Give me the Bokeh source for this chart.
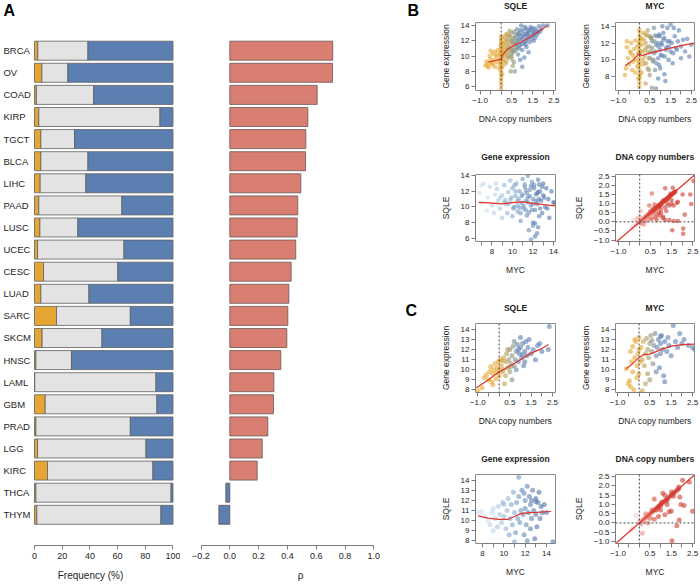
from bokeh.plotting import figure
from bokeh.models import Range1d, FixedTicker, ColumnDataSource, Span, Slope
from bokeh.layouts import row, column
from bokeh.transform import linear_cmap
from bokeh.core.properties import value
from bokeh.embed import file_html
from bokeh.resources import INLINE

# ---------------- data: panel A ----------------
cancers = ["BRCA", "OV", "COAD", "KIRP", "TGCT", "BLCA", "LIHC", "PAAD", "LUSC", "UCEC", "CESC",
           "LUAD", "SARC", "SKCM", "HNSC", "LAML", "GBM", "PRAD", "LGG", "KIRC", "THCA", "THYM"]
loss_pct = [2.4, 5.3, 1.4, 3.1, 4.6, 4.6, 4.1, 3.1, 3.9, 2.2, 6.5, 4.6, 15.9, 5.5, 1.0, 0.2, 7.7, 1.0, 2.2, 9.4, 1.0, 1.7]
neutral_pct = [36.2, 18.8, 41.3, 87.5, 24.3, 34.0, 33.0, 60.0, 27.4, 62.4, 53.7, 34.7, 53.3, 43.2, 25.7, 87.5, 80.7, 68.2, 78.3, 76.1, 97.6, 89.6]
gain_pct = [61.4, 75.9, 57.3, 9.4, 71.1, 61.4, 62.9, 36.9, 68.7, 35.4, 39.8, 60.7, 30.8, 51.3, 73.3, 12.3, 11.6, 30.8, 19.5, 14.5, 1.4, 8.7]
rho = [0.715, 0.713, 0.607, 0.542, 0.528, 0.526, 0.493, 0.472, 0.468, 0.458, 0.426, 0.410, 0.403, 0.396,
       0.354, 0.306, 0.303, 0.264, 0.225, 0.190, -0.028, -0.076]
freq_ticks = [0, 20, 40, 60, 80, 100]
rho_ticks = [-0.2, 0.0, 0.2, 0.4, 0.6, 0.8, 1.0]
rho_tick_labels = ["\u22120.2", "0.0", "0.2", "0.4", "0.6", "0.8", "1.0"]

# ---------------- data: panel B ----------------
b_sqle_cn = [-0.75, -0.70, -0.65, -0.60, -0.60, -0.55, -0.50, -0.50, -0.45, -0.40, -0.40, -0.35, -0.30, -0.30, -0.25,
             -0.20, -0.20, -0.15, -0.10, -0.10, -0.05, -0.05,
             0, 0, 0, 0, 0, 0, 0, 0, 0, 0, 0, 0, 0, 0, 0, 0, 0, 0, 0.03, 0.05, 0.04, 0.06, -0.03, -0.02, 0.02, 0.05,
             0.1, 0.1, 0.15, 0.15, 0.2, 0.2, 0.2, 0.25, 0.25, 0.3, 0.3, 0.35, 0.35, 0.4, 0.45, 0.45, 0.45, 0.5, 0.5,
             0.5, 0.55, 0.55, 0.6, 0.65, 0.65, 0.7, 0.7, 0.75, 0.75, 0.8, 0.8, 0.85, 0.9, 0.9, 0.95, 1.0, 1.0, 1.0,
             1.05, 1.1, 1.15, 1.2, 1.2, 1.25, 1.3, 1.35, 1.4, 1.45, 1.5, 1.55, 1.6, 1.7, 1.8, 1.9, 2.0, 2.2, 1.3,
             0.9, 1.1, 0.6, 0.3, 0.15, 0.4, 0.55,
             0.12, 0.18, 0.22, 0.28, 0.32, 0.38, 0.42, 0.48, 0.52, 0.58, 0.62, 0.68, 0.72, 0.78, 0.82, 0.88, 0.92,
             0.98, 1.02, 1.08, 1.12, 1.18, 1.22, 1.28, 1.32, 1.38, 1.42, 1.48, 1.52, 1.58, 1.62, 1.68, 1.75, 1.85,
             0.35, 0.6, 0.85, 1.15, 0.25, 0.5]
b_sqle_expr = [8.8, 9.3, 8.7, 9.1, 8.5, 10.0, 9.6, 10.7, 9.0, 10.3, 8.9, 9.4, 10.6, 8.6, 9.9, 10.2, 9.2, 10.8, 9.6, 8.4,
               10.4, 9.0,
               5.6, 6.2, 6.7, 7.1, 7.6, 8.0, 8.4, 8.8, 9.2, 9.5, 9.9, 10.2, 10.6, 11.0, 11.3, 11.7, 12.1, 12.4, 10.9,
               9.4, 11.8, 8.6, 10.1, 11.4, 12.6, 7.6,
               10.5, 9.5, 11.2, 10.0, 11.8, 9.0, 10.8, 12.2, 10.3, 11.0, 9.8, 12.6, 10.6, 11.5, 8.0, 10.2, 12.0, 11.0,
               13.0, 9.6, 11.8, 10.5, 12.4, 8.0, 11.2, 12.8, 10.8, 13.5, 11.6, 12.0, 10.2, 13.0, 11.4, 12.6, 14.0,
               12.2, 10.8, 8.6, 13.3, 11.8, 12.8, 13.6, 11.2, 12.3, 13.0, 11.8, 13.8, 12.6, 13.2, 12.0, 13.6, 12.8,
               13.9, 13.5, 14.0, 14.0, 10.5, 9.5, 9.8, 9.2, 12.9, 12.4, 13.3, 8.7,
               11.6, 10.4, 12.8, 11.4, 12.0, 11.0, 12.6, 10.8, 12.2, 11.6, 13.2, 11.9, 12.4, 11.2, 12.9, 12.2, 13.4,
               11.6, 12.8, 12.5, 13.8, 12.0, 12.9, 13.3, 12.6, 13.4, 12.2, 13.6, 12.8, 13.0, 12.4, 13.3, 13.1, 13.2,
               9.9, 10.6, 11.0, 11.5, 9.3, 10.0]
b_sqle_fit_cn = [-0.6, -0.3, 0.0, 0.1, 0.3, 0.6, 1.0, 1.5, 2.2]
b_sqle_fit_expr = [9.2, 9.4, 9.6, 10.3, 10.9, 11.4, 11.9, 12.7, 14.0]

b_myc_cn = [-0.70, -0.65, -0.60, -0.55, -0.50, -0.45, -0.40, -0.35, -0.30, -0.30, -0.25, -0.20, -0.20, -0.15, -0.10,
            -0.10, -0.05, -0.05, -0.40, -0.60,
            0, 0, 0, 0, 0, 0, 0, 0, 0, 0, 0, 0, 0, 0, 0, 0.03, -0.03, 0.05, 0.02, -0.02,
            0.1, 0.1, 0.15, 0.2, 0.2, 0.25, 0.3, 0.3, 0.35, 0.4, 0.4, 0.45, 0.5, 0.5, 0.55, 0.6, 0.6, 0.65, 0.7,
            0.7, 0.75, 0.8, 0.85, 0.9, 0.9, 0.95, 1.0, 1.0, 1.05, 1.1, 1.1, 1.2, 1.2, 1.3, 1.35, 1.4, 1.45, 1.5,
            1.5, 1.6, 1.7, 1.8, 1.9, 2.0, 2.1, 2.2, 2.3, 2.4, 2.5, 1.25, 0.8, 1.65,
            0.12, 0.18, 0.22, 0.28, 0.32, 0.38, 0.42, 0.48, 0.52, 0.58, 0.62, 0.68, 0.72, 0.78, 0.82, 0.88, 0.92,
            0.98, 1.02, 1.08, 1.15, 1.22, 1.28, 1.35, 1.42, 1.55, 1.62, 1.75, 1.85, 2.0, 0.3, 0.55, 0.75, 0.95,
            1.15, 0.45]
b_myc_expr = [8.2, 9.0, 11.5, 10.2, 9.5, 11.0, 12.0, 8.8, 10.5, 9.8, 11.3, 8.5, 12.3, 10.0, 11.6, 9.2, 10.8, 7.8,
              10.8, 12.2,
              6.8, 7.3, 7.8, 8.3, 8.8, 9.3, 9.8, 10.3, 10.8, 11.3, 11.8, 12.3, 12.8, 13.3, 13.6, 11.0, 9.6, 12.6,
              8.1, 12.0,
              12.5, 8.5, 11.0, 13.2, 9.5, 10.5, 12.0, 7.2, 11.5, 9.0, 13.5, 10.2, 12.8, 8.2, 11.0, 6.7, 12.2, 9.8,
              13.8, 10.8, 8.8, 11.8, 12.8, 10.2, 7.8, 13.0, 11.2, 9.0, 12.0, 14.0, 10.5, 12.6, 8.3, 11.5, 13.8,
              10.0, 12.2, 14.2, 11.0, 9.6, 12.8, 11.2, 13.5, 10.2, 12.4, 11.0, 12.5, 10.4, 11.8, 7.5, 6.6, 13.8,
              11.8, 10.0, 12.4, 11.2, 9.6, 12.9, 10.9, 11.6, 10.2, 12.6, 11.4, 10.0, 12.2, 11.0, 9.6, 12.0, 11.6,
              12.8, 10.6, 11.8, 12.4, 10.4, 11.2, 12.2, 11.6, 12.0, 10.8, 11.4, 12.2, 11.6, 13.0, 12.6, 12.9, 9.4,
              13.2, 8.8]
b_myc_fit_cn = [-0.68, -0.3, 0.0, 0.1, 0.5, 1.0, 1.5, 2.0, 2.65]
b_myc_fit_expr = [9.3, 10.0, 10.8, 10.5, 10.8, 11.1, 11.4, 11.7, 12.0]

b_gex_myc = [6.8, 7.0, 7.2, 7.5, 7.6, 7.8, 8.0, 8.2, 8.3, 8.5, 8.6, 8.8, 9.0, 9.0, 9.2, 9.4, 9.5, 9.6, 9.8, 9.8,
             10.0, 10.0, 10.2, 10.3, 10.4, 10.5, 10.6, 10.7, 10.8, 10.9, 11.0, 11.0, 11.1, 11.2, 11.3, 11.4, 11.5,
             11.5, 11.6, 11.6, 11.7, 11.8, 11.9, 12.0, 12.0, 12.1, 12.2, 12.2, 12.3, 12.4, 12.5, 12.5, 12.6, 12.7,
             12.8, 12.9, 13.0, 13.0, 13.2, 13.3, 13.5, 13.6, 13.8, 14.0, 14.1, 11.8, 12.4, 12.0, 7.0, 8.4, 10.5,
             11.3, 12.6, 9.3, 10.1,
             9.6, 9.9, 10.1, 10.3, 10.5, 10.7, 10.9, 11.1, 11.3, 11.5, 11.7, 11.9, 12.1, 12.3, 12.5, 12.7, 12.9,
             13.1, 10.2, 10.8, 11.4, 12.0, 12.6, 11.2, 11.8, 12.4, 9.2, 8.8, 13.4, 12.2]
b_gex_sqle = [11.8, 10.5, 13.0, 9.5, 11.2, 12.6, 10.2, 9.2, 11.6, 12.3, 10.8, 9.8, 11.5, 8.6, 12.8, 10.4, 9.2, 11.9,
              13.4, 10.9, 8.8, 12.4, 10.0, 11.4, 13.0, 9.4, 11.0, 12.0, 8.2, 10.5, 13.6, 11.6, 9.8, 12.6, 10.8, 8.9,
              14.0, 11.2, 7.0, 9.3, 12.2, 10.2, 13.2, 11.0, 8.0, 12.8, 9.6, 6.2, 11.6, 10.4, 13.5, 7.4, 8.8, 12.0,
              10.8, 9.2, 11.5, 13.0, 10.0, 12.4, 11.0, 8.6, 12.0, 10.6, 10.5, 5.8, 6.6, 7.6, 12.8, 13.0, 10.2, 9.6,
              12.9, 10.9, 9.9,
              10.4, 11.2, 9.8, 12.0, 10.8, 9.9, 11.4, 10.1, 12.2, 10.6, 11.4, 9.6, 12.4, 10.8, 11.9, 9.8, 12.6,
              11.2, 12.8, 9.2, 11.8, 10.4, 11.0, 12.9, 12.7, 11.8, 10.6, 11.2, 9.8, 7.9]
b_gex_fit_myc = [6.7, 8.0, 9.0, 10.0, 11.0, 12.0, 13.0, 14.2]
b_gex_fit_sqle = [10.6, 10.5, 10.4, 10.55, 10.65, 10.45, 10.3, 10.15]

b_cn_myc = [0.05, 0.12, 0.18, 0.25, 0.3, 0.36, 0.42, 0.48, 0.55, 0.6, 0.66, 0.72, 0.78, 0.85, 0.9, 0.96, 1.02, 1.08,
            1.15, 1.2, 1.26, 1.32, 1.38, 1.45, 1.5, 1.56, 1.62, 1.68, 0.7, 0.9, 1.1, 0.5, 1.3, 0.8, 1.0, 0.6,
            -0.35, -0.3, -0.25, -0.2, -0.15, -0.1, -0.05, 0.0, 0.0, 0.05, 0.1, 0.15, 0.2, 0.02, -0.1,
            0.57, 0.45, 1.2, 1.56, 1.5, 2.02, 2.38, 2.53, 2.12, 2.43, 1.8, 2.05, 2.05, 1.53, 1.2, 1.4, 1.1, 0.8,
            0.5, 0.3, 0.6, 0.9, 1.0, 0.7, 1.6, 1.8, 0.4, 0.75, 1.25, 1.45, 1.75, 1.3, 0.95, 1.6,
            0.08, 0.15, 0.22, 0.28, 0.33, 0.39, 0.45, 0.52, 0.58, 0.63, 0.69, 0.75, 0.81, 0.88, 0.93, 0.99, 1.05,
            1.12, 1.18, 1.23, 1.29, 1.35, 1.42, 1.48, 1.53, 1.59, 1.65, 1.0, 1.2, 0.8, 1.4, 0.6, 1.1, 1.5, 0.7]
b_cn_sqle = [0.05, 0.12, 0.18, 0.25, 0.3, 0.36, 0.42, 0.48, 0.55, 0.6, 0.66, 0.72, 0.78, 0.85, 0.9, 0.96, 1.02, 1.08,
             1.15, 1.2, 1.26, 1.32, 1.38, 1.45, 1.5, 1.56, 1.62, 1.68, 0.78, 0.82, 1.18, 0.58, 1.22, 0.72, 0.92, 0.7,
             -0.35, 0.1, -0.2, -0.25, 0.15, -0.1, 0.0, 0.3, -0.05, 0.6, -0.1, -0.05, -0.15, 0.12, 0.2,
             1.56, 0.9, 1.85, 1.88, 1.2, 1.51, 1.51, 2.25, 0.4, 0.98, 0.05, -0.37, -0.65, -0.46, 0.1, 0.1, 0.3,
             0.1, 0.15, 0.05, 0.45, 0.5, 0.7, 0.95, 0.9, 1.1, 0.3, 0.25, 0.6, 1.55, 1.05, 1.0, 0.35, 0.05,
             0.08, 0.15, 0.22, 0.28, 0.33, 0.39, 0.45, 0.52, 0.58, 0.63, 0.69, 0.75, 0.81, 0.88, 0.93, 0.99, 1.05,
             1.12, 1.18, 1.23, 1.29, 1.35, 1.42, 1.48, 1.53, 1.59, 1.65, 0.5, 0.8, 0.4, 0.9, 0.2, 0.2, 1.0, 0.6]

# ---------------- data: panel C ----------------
c_sqle_cn = [-1.0, -0.8, -0.7, -0.6, -0.5, -0.45, -0.4, -0.35, -0.3, -0.25, -0.2, -0.15, -0.1, -0.1, -0.05, 0.0,
             0.05, 0.0, -0.3,
             0.1, 0.15, 0.2, 0.2, 0.25, 0.3, 0.35, 0.4, 0.45, 0.5, 0.5, 0.55, 0.6, 0.65, 0.7, 0.75, 0.8, 0.85, 0.9,
             0.95, 1.0, 1.0, 1.05, 1.1, 1.15, 1.2, 1.25, 1.3, 1.35, 1.4, 1.5, 1.6, 1.7, 1.8, 1.9, 2.0, 2.3, 2.35,
             0.3, 0.6, 0.8, 1.2, 0.4, 0.7, 0.15, 0.55, 1.1, 0.9]
c_sqle_expr = [7.9, 8.2, 9.2, 9.5, 9.0, 9.8, 10.3, 8.8, 9.6, 10.0, 10.6, 9.1, 10.2, 9.7, 10.8, 10.0, 11.0, 9.4, 8.5,
               10.4, 9.8, 11.2, 10.0, 8.6, 10.8, 11.6, 10.2, 11.0, 12.0, 9.8, 10.6, 11.4, 12.3, 10.4, 11.0, 11.8,
               12.5, 10.8, 11.6, 12.2, 13.2, 11.2, 12.6, 10.4, 11.8, 12.8, 11.4, 12.2, 13.0, 11.6, 12.0, 11.0, 12.4,
               12.6, 11.8, 12.0, 14.3, 9.4, 9.0, 10.0, 10.8, 12.0, 12.8, 10.9, 10.3, 11.5, 12.0]
c_sqle_fit_cn = [-1.07, -0.5, 0.0, 0.35, 0.6, 1.0, 1.45, 2.0, 2.31]
c_sqle_fit_expr = [8.2, 9.0, 9.8, 10.2, 10.5, 11.0, 11.6, 12.1, 12.5]

c_myc_cn = [-0.6, -0.5, -0.45, -0.4, -0.4, -0.35, -0.3, -0.3, -0.25, -0.2, -0.15, -0.1, -0.1, -0.05, 0.0, 0.0, 0.05,
            0.1, 0.15, -0.2, 0.0,
            0.1, 0.15, 0.2, 0.25, 0.3, 0.35, 0.4, 0.4, 0.45, 0.5, 0.5, 0.55, 0.6, 0.65, 0.7, 0.75, 0.8, 0.85, 0.9,
            0.95, 1.0, 1.0, 1.05, 1.1, 1.15, 1.2, 1.2, 1.3, 1.35, 1.4, 1.5, 1.6, 1.7, 1.8, 1.9, 2.0, 2.1, 2.3,
            2.5, 2.6, 0.3, 0.8, 0.6, 1.0]
c_myc_expr = [10.1, 8.6, 8.9, 8.3, 11.8, 10.8, 12.3, 9.8, 8.0, 11.2, 12.8, 10.4, 9.2, 11.6, 12.0, 13.2, 10.8, 7.6,
              7.9, 13.0, 9.6,
              12.2, 11.0, 12.8, 10.4, 11.6, 13.1, 9.6, 12.0, 11.2, 12.6, 9.0, 13.4, 11.8, 10.6, 12.4, 13.6, 11.4,
              12.2, 13.0, 10.2, 12.6, 11.6, 13.4, 12.0, 9.4, 8.8, 12.8, 11.8, 13.2, 12.4, 11.4, 14.4, 12.8, 12.2,
              13.6, 12.6, 13.0, 12.4, 12.2, 12.0, 8.6, 9.8, 12.9, 13.3]
c_myc_fit_cn = [-0.6, -0.3, 0.0, 0.2, 0.5, 0.8, 1.0, 1.5, 2.0, 2.6]
c_myc_fit_expr = [10.1, 10.6, 11.2, 11.5, 11.55, 11.8, 12.0, 12.35, 12.5, 12.55]

c_gex_myc = [7.6, 7.9, 8.2, 8.5, 8.7, 8.9, 9.0, 9.2, 9.4, 9.5, 9.6, 9.8, 9.9, 10.0, 10.2, 10.3, 10.4, 10.5, 10.6,
             10.7, 10.8, 10.9, 11.0, 11.1, 11.2, 11.3, 11.4, 11.4, 11.5, 11.6, 11.7, 11.8, 11.9, 12.0, 12.0, 12.1,
             12.2, 12.3, 12.4, 12.5, 12.5, 12.6, 12.7, 12.8, 12.9, 13.0, 13.0, 13.1, 13.2, 13.3, 13.4, 13.5, 13.6,
             13.8, 14.0, 14.6, 11.0, 12.2, 10.0, 9.0, 12.6, 13.0, 11.9]
c_gex_sqle = [10.8, 10.9, 10.4, 10.0, 9.6, 10.8, 11.2, 10.2, 9.4, 11.4, 10.6, 9.8, 11.8, 10.4, 9.2, 11.0, 12.2, 8.6,
              10.2, 11.6, 9.6, 12.8, 10.8, 8.8, 11.8, 10.2, 12.4, 14.3, 9.8, 11.0, 13.0, 10.6, 8.6, 12.0, 11.2, 9.6,
              13.4, 10.8, 12.4, 11.6, 9.2, 10.2, 13.0, 11.0, 8.2, 12.2, 10.6, 9.4, 11.8, 12.8, 10.2, 11.4, 10.8,
              11.6, 10.8, 7.9, 7.9, 8.0, 11.6, 9.0, 12.0, 11.9, 12.7]
c_gex_fit_myc = [7.58, 8.5, 9.5, 10.4, 11.0, 11.5, 12.0, 12.5, 13.0, 14.45]
c_gex_fit_sqle = [10.47, 10.25, 10.12, 10.13, 10.4, 10.67, 10.75, 10.8, 10.82, 10.9]

c_cn_myc = [0.05, 0.12, 0.2, 0.28, 0.35, 0.42, 0.5, 0.58, 0.65, 0.72, 0.8, 0.88, 0.95, 1.02, 1.1, 1.18, 1.25, 1.32,
            1.4, 1.48, 1.55, 1.62, 1.7, 1.78, 1.85, 0.9, 1.05, 1.3,
            -0.17, 0.14, -0.3, -0.4, 0.0, 0.2, 0.08,
            0.3, 0.7, 1.1, 1.2, 1.51, 1.85, 2.03, 2.35, 1.9, 1.3, 1.0, 1.4, 2.5, 2.1, 1.95, 1.87, 1.76, 1.53, 1.2,
            0.5, 0.7, 0.9, 0.4, 0.6, 1.5, 0.8, 1.0, 1.6]
c_cn_sqle = [0.05, 0.12, 0.2, 0.28, 0.35, 0.42, 0.5, 0.58, 0.65, 0.72, 0.8, 0.88, 0.95, 1.02, 1.1, 1.18, 1.25, 1.32,
             1.4, 1.48, 1.55, 1.62, 1.7, 1.78, 1.85, 0.82, 1.12, 1.22,
             0.4, -0.55, -0.3, -0.4, 0.1, 0.1, -0.05,
             0.5, 1.3, 1.6, 1.5, 1.67, 1.95, 2.31, 2.22, 1.4, 1.0, 0.7, 0.6, 0.63, 0.95, 1.0, 0.16, -0.15, -0.96,
             0.45, 0.25, 0.2, 0.35, 0.0, 0.7, 0.65, 0.7, 0.95, 1.45]

cn_ticks = [-1.0, -0.5, 0.0, 0.5, 1.0, 1.5, 2.0, 2.5]
cn_tick_labels = ["\u22121.0", "", "", "0.5", "", "1.5", "", "2.5"]
cn_ticks_all_labels = ["\u22121.0", "\u22120.5", "0.0", "0.5", "1.0", "1.5", "2.0", "2.5"]
panel_letters = ["B", "C"]

# ---------------- style ----------------
FONT = "Liberation Sans"
TXT = "#1e1e1e"
AXC = "#7a7a7a"
ORANGE = "#E6A633"
GREY = "#E3E3E3"
BLUE = "#5B7FB1"
SALMON = "#D97F72"
FIT_RED = "#E0342B"
CN_PAL = ["#E8A632", "#DDA537", "#CFA342", "#BFA04F", "#AC9C5F", "#999770", "#869182", "#748A93", "#6683A4", "#5B7DB0"]
EXPR_PAL = ["#CFE0EE", "#BCD2E7", "#A8C3DE", "#94B4D5", "#82A6CC", "#7298C3", "#658BBA", "#5A7FB1", "#5277AB"]
RED_PAL = ["#F6CDCF", "#F0AEAD", "#EA908A", "#E37468", "#DC5D4D", "#D54B3A", "#CF3E2E"]


def style_axis(ax, ticks, labels, fs, lfs, tick_out=4, standoff=3, lab_standoff=8):
    ax.ticker = FixedTicker(ticks=ticks, minor_ticks=[])
    ax.major_label_overrides = {float(t): l for t, l in zip(ticks, labels)}
    ax.bounds = (min(ticks), max(ticks))
    ax.axis_line_color = AXC
    ax.major_tick_line_color = AXC
    ax.minor_tick_line_color = None
    ax.major_tick_out = tick_out
    ax.major_tick_in = 0
    ax.major_label_standoff = standoff
    ax.major_label_text_font = FONT
    ax.major_label_text_font_size = fs
    ax.major_label_text_color = TXT
    ax.axis_label_text_font = FONT
    ax.axis_label_text_font_size = lfs
    ax.axis_label_text_font_style = "normal"
    ax.axis_label_text_color = TXT
    ax.axis_label_standoff = lab_standoff


idx = list(range(len(cancers)))
Y_TOP, Y_BOTTOM = -2.271, 22.389
PX_PER_ROW = 22.1
BAR_H = 0.86

# ---------------- panel A: frequency ----------------
pa = figure(width=180, height=585, x_range=Range1d(-24.55, 105.42), y_range=Range1d(Y_BOTTOM, Y_TOP),
            output_backend="svg", toolbar_location=None, y_axis_location=None,
            min_border_left=0, min_border_right=0, min_border_top=0, min_border_bottom=40)
pa.grid.visible = False
pa.outline_line_color = None
src_a = ColumnDataSource(dict(y=idx, loss=loss_pct, neutral=neutral_pct, gain=gain_pct, name=cancers))
pa.hbar_stack(["loss", "neutral", "gain"], y="y", height=BAR_H, fill_color=[ORANGE, GREY, BLUE],
              line_color="#5f5f5f", line_width=0.8, source=src_a)
pa.text(x=-22.4, y="y", text="name", source=src_a, text_font=value(FONT), text_font_size="9.5px",
        text_align="left", text_baseline="middle", text_color=TXT)
pa.text(x=[-22.4], y=[Y_TOP + 9.5 / PX_PER_ROW], text=["A"], text_font=value(FONT), text_font_size="16px",
        text_font_style="bold", text_align="left", text_baseline="middle", text_color="#000000")
pa.xaxis.axis_label = "Frequency (%)"
style_axis(pa.xaxis[0], freq_ticks, [str(t) for t in freq_ticks], "9px", "10px")

# ---------------- panel A: rho (its frame also carries the B / C letters) ----------------
RHO_X0, RHO_PX = -0.3424, 144.0
pr = figure(width=240, height=585, x_range=Range1d(RHO_X0, RHO_X0 + 240 / RHO_PX), y_range=Range1d(Y_BOTTOM, Y_TOP),
            output_backend="svg", toolbar_location=None, y_axis_location=None,
            min_border_left=0, min_border_right=0, min_border_top=0, min_border_bottom=40)
pr.grid.visible = False
pr.outline_line_color = None
rho_col = [SALMON if r >= 0 else BLUE for r in rho]
pr.hbar(y=idx, left=0, right=rho, height=BAR_H, fill_color=rho_col, line_color="#6a5656", line_width=0.8)
pr.xaxis.axis_label = "\u03c1"
style_axis(pr.xaxis[0], rho_ticks, rho_tick_labels, "9px", "10px")
letter_x = [RHO_X0 + (407 - 180) / RHO_PX, RHO_X0 + (405 - 180) / RHO_PX]
letter_y = [Y_TOP + 9.5 / PX_PER_ROW, Y_TOP + 309.5 / PX_PER_ROW]
pr.text(x=letter_x, y=letter_y, text=panel_letters, text_font=value(FONT), text_font_size="16px",
        text_font_style="bold", text_align="left", text_baseline="middle", text_color="#000000")

# ---------------- scatter panels ----------------
# (row height, space above box, box height, bottom border)
ROWS = [(151, 22, 68, 61), (151, 23, 67, 61), (151, 21, 69, 61), (132, 21, 69, 42)]
# (figure width, left border, frame width, right border)
COLS = [(140, 55, 80, 5), (140, 55, 79, 6)]
PAD_TOP = 5          # top border kept inside each scatter figure
TITLE_Y = 5.3        # title centre, px below the top of its row


def title_strip(r, c, title):
    h, bt, fh, bb = ROWS[r]
    w, bl, fw, br = COLS[c]
    th = bt - PAD_TOP
    t = figure(width=w, height=th, x_range=Range1d(0, w), y_range=Range1d(th, 0),
               output_backend="svg", toolbar_location=None, x_axis_location=None, y_axis_location=None,
               min_border_left=0, min_border_right=0, min_border_top=0, min_border_bottom=0)
    t.grid.visible = False
    t.outline_line_color = None
    t.text(x=[bl + fw / 2.0], y=[TITLE_Y], text=[title], text_font=value(FONT), text_font_size="8.5px",
           text_font_style="bold", text_align="center", text_baseline="middle", text_color=TXT)
    return t


def scatter_panel(r, c, title, xr, yr, xt, xl, yt, yl, xlab, ylab):
    h, bt, fh, bb = ROWS[r]
    w, bl, fw, br = COLS[c]
    p = figure(width=w, height=h - (bt - PAD_TOP), x_range=Range1d(*xr), y_range=Range1d(*yr),
               output_backend="svg", toolbar_location=None,
               min_border_left=bl, min_border_right=br, min_border_top=PAD_TOP, min_border_bottom=bb)
    p.grid.visible = False
    p.outline_line_color = "#8c8c8c"
    p.outline_line_width = 1
    p.xaxis.axis_label = xlab
    p.yaxis.axis_label = ylab
    style_axis(p.xaxis[0], xt, xl, "8px", "8.5px", tick_out=4, standoff=3, lab_standoff=8)
    style_axis(p.yaxis[0], yt, yl, "8px", "8.5px", tick_out=4, standoff=2, lab_standoff=7)
    return p, title_strip(r, c, title)


def add_points(p, xs, ys, pal, lo, hi, size=4.6, alpha=0.6):
    s = ColumnDataSource(dict(x=xs, y=ys))
    p.scatter("x", "y", source=s, size=size, fill_color=linear_cmap("x", pal, lo, hi),
              fill_alpha=alpha, line_color=None)


def add_vline(p):
    p.add_layout(Span(location=0, dimension="height", line_color="#444444", line_dash="2 2", line_width=1))


ev2 = [6, 8, 10, 12, 14]
ev3 = [8, 10, 12, 14]
ev_all = [8, 9, 10, 11, 12, 13, 14]

b1l, t1l = scatter_panel(0, 0, "SQLE", (-1.22, 2.58), (5.5, 14.39), cn_ticks, cn_tick_labels, ev2,
                         [str(v) for v in ev2], "DNA copy numbers", "Gene expression")
add_points(b1l, b_sqle_cn, b_sqle_expr, CN_PAL, -0.1, 1.0)
b1l.line(b_sqle_fit_cn, b_sqle_fit_expr, line_color=FIT_RED, line_width=1.2)
add_vline(b1l)

b1r, t1r = scatter_panel(0, 1, "MYC", (-1.15, 2.65), (6.37, 14.44), cn_ticks, cn_tick_labels, ev3,
                         [str(v) for v in ev3], "DNA copy numbers", "Gene expression")
add_points(b1r, b_myc_cn, b_myc_expr, CN_PAL, -0.1, 1.0)
b1r.line(b_myc_fit_cn, b_myc_fit_expr, line_color=FIT_RED, line_width=1.2)
add_vline(b1r)

gx_t = [7, 8, 9, 10, 11, 12, 13, 14]
gx_l = ["", "8", "", "10", "", "12", "", "14"]
b2l, t2l = scatter_panel(1, 0, "Gene expression", (6.4, 14.2), (5.56, 14.17), gx_t, gx_l, ev2,
                         [str(v) for v in ev2], "MYC", "SQLE")
add_points(b2l, b_gex_myc, b_gex_sqle, EXPR_PAL, 7.0, 13.5)
b2l.line(b_gex_fit_myc, b_gex_fit_sqle, line_color=FIT_RED, line_width=1.2)

b2r, t2r = scatter_panel(1, 1, "DNA copy numbers", (-1.14, 2.58), (-1.08, 2.61), cn_ticks, cn_tick_labels,
                         cn_ticks, cn_ticks_all_labels, "MYC", "SQLE")
add_points(b2r, b_cn_myc, b_cn_sqle, RED_PAL, -0.3, 1.0)
b2r.add_layout(Slope(gradient=1, y_intercept=0, line_color=FIT_RED, line_width=1.2))
add_vline(b2r)
b2r.add_layout(Span(location=0, dimension="width", line_color="#444444", line_dash="2 2", line_width=1))

c1l, t3l = scatter_panel(2, 0, "SQLE", (-1.11, 2.64), (7.73, 14.6), cn_ticks, cn_tick_labels, ev_all,
                         [str(v) for v in ev_all], "DNA copy numbers", "Gene expression")
add_points(c1l, c_sqle_cn, c_sqle_expr, CN_PAL, -0.1, 1.0, size=5.0)
c1l.line(c_sqle_fit_cn, c_sqle_fit_expr, line_color=FIT_RED, line_width=1.2)
add_vline(c1l)

c1r, t3r = scatter_panel(2, 1, "MYC", (-1.1, 2.59), (7.73, 14.6), cn_ticks, cn_tick_labels, ev_all,
                         [str(v) for v in ev_all], "DNA copy numbers", "Gene expression")
add_points(c1r, c_myc_cn, c_myc_expr, CN_PAL, -0.1, 1.0, size=5.0)
c1r.line(c_myc_fit_cn, c_myc_fit_expr, line_color=FIT_RED, line_width=1.2)
add_vline(c1r)

cgx_t = [8, 9, 10, 11, 12, 13, 14]
cgx_l = ["8", "", "10", "", "12", "", "14"]
c2l, t4l = scatter_panel(3, 0, "Gene expression", (7.34, 14.85), (7.73, 14.57), cgx_t, cgx_l, ev_all,
                         [str(v) for v in ev_all], "MYC", "SQLE")
add_points(c2l, c_gex_myc, c_gex_sqle, EXPR_PAL, 8.0, 13.5, size=5.0)
c2l.line(c_gex_fit_myc, c_gex_fit_sqle, line_color=FIT_RED, line_width=1.2)

c2r, t4r = scatter_panel(3, 1, "DNA copy numbers", (-1.12, 2.59), (-1.11, 2.62), cn_ticks, cn_tick_labels,
                         cn_ticks, cn_ticks_all_labels, "MYC", "SQLE")
add_points(c2r, c_cn_myc, c_cn_sqle, RED_PAL, -0.3, 1.0, size=5.0)
c2r.add_layout(Slope(gradient=1, y_intercept=0, line_color=FIT_RED, line_width=1.2))
add_vline(c2r)
c2r.add_layout(Span(location=0, dimension="width", line_color="#444444", line_dash="2 2", line_width=1))

right = column(row(t1l, t1r), row(b1l, b1r),
               row(t2l, t2r), row(b2l, b2r),
               row(t3l, t3r), row(c1l, c1r),
               row(t4l, t4r), row(c2l, c2r))
layout = row(pa, pr, right)

open("out.html", "w").write(file_html(layout, INLINE))
